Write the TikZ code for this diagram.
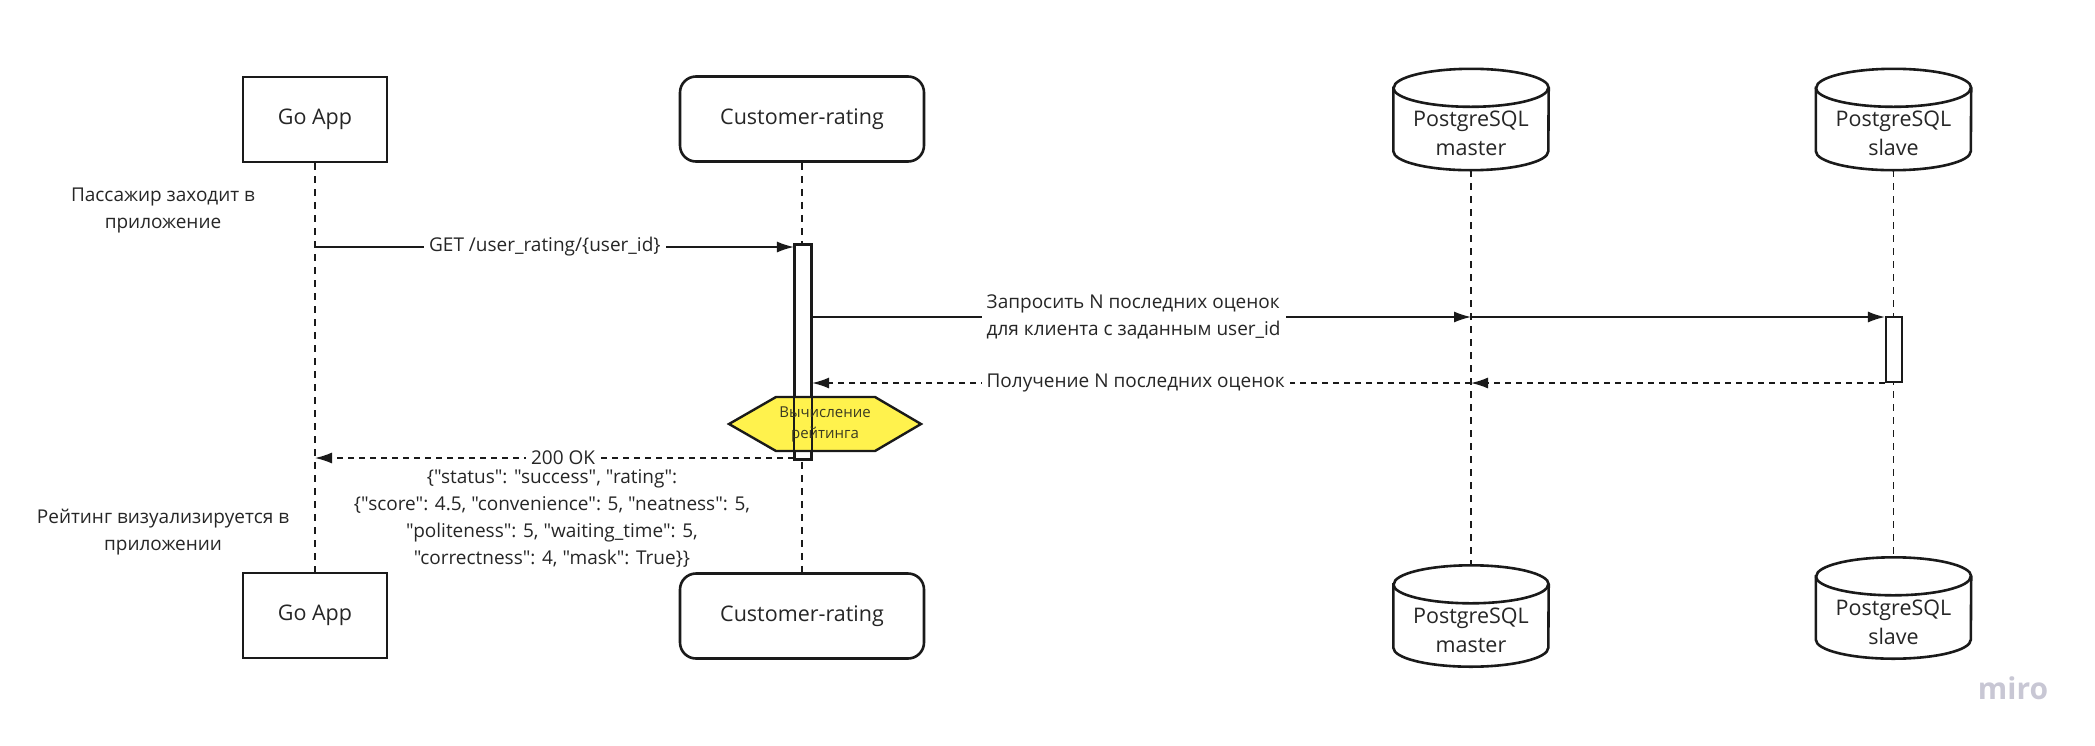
\documentclass[tikz,border=0pt]{standalone}
\usepackage{fontspec}
\setmainfont{Open Sans}[Ligatures=TeXOff]
\usetikzlibrary{arrows.meta,calc}
\definecolor{txt}{HTML}{262626}
\definecolor{ln}{HTML}{1A1A1A}
\definecolor{hexfill}{HTML}{FFF24D}
\definecolor{hextxt}{HTML}{3A3A22}
\definecolor{mirogray}{HTML}{C8C7D4}
\newcommand\dbcylinder[1]{%
  \draw[dbline] ($(#1.north west)+(0,-19)$) -- ($(#1.south west)+(0,19)$)
    arc[start angle=180,end angle=360,x radius=77.5pt,y radius=19pt]
    -- ($(#1.north east)+(0,-19)$)
    arc[start angle=0,end angle=180,x radius=77.5pt,y radius=19pt] -- cycle;
  \draw[dbline,fill=none] ($(#1.north west)+(0,-19)$)
    arc[start angle=180,end angle=360,x radius=77.5pt,y radius=19pt];}
\begin{document}
\begin{tikzpicture}[x=1pt,y=1pt,
  box/.style={draw=ln, line width=2.6pt, fill=white, minimum width=144pt, minimum height=85pt,
    inner sep=0pt, font=\fontsize{21.5}{26}\selectfont, text=txt},
  rbox/.style={box, rounded corners=16pt, minimum width=244pt},
  dbnode/.style={minimum width=155pt, minimum height=101pt, inner sep=0pt},
  dbline/.style={draw=ln, line width=2.6pt, fill=white},
  dbtext/.style={font=\fontsize{21.5}{29}\selectfont, text=txt, align=center, inner sep=0pt},
  life/.style={draw=ln, line width=1.3pt, dash pattern=on 7pt off 6pt},
  msg/.style={draw=ln, line width=1.4pt, -{Latex[length=17pt,width=11pt]}},
  ret/.style={msg, dash pattern=on 6pt off 5pt},
  lbl/.style={fill=white, font=\fontsize{19}{27}\selectfont, text=txt, inner xsep=5pt, inner ysep=1pt},
  note/.style={font=\fontsize{19}{27}\selectfont, text=txt, align=center, inner sep=0pt},
  act/.style={draw=ln, fill=white, line width=2.2pt, inner sep=0pt, minimum width=16pt},
  hexline/.style={draw=ln, line width=2.4pt, fill=hexfill},
  hextext/.style={font=\fontsize{15}{21}\selectfont, text=hextxt, align=center, inner sep=0pt}
]
\useasboundingbox (0,0) rectangle (2095,-745);

% participants (top)
\node[box] (goT) at (315,-119.5) {Go App};
\node[rbox] (crT) at (802,-119) {Customer-rating};
\node[dbnode] (mT) at (1471,-119.5) {};
\node[dbnode] (sT) at (1893.5,-119.5) {};
% participants (bottom)
\node[box] (goB) at (315,-615.5) {Go App};
\node[rbox] (crB) at (802,-616) {Customer-rating};
\node[dbnode] (mB) at (1471,-616) {};
\node[dbnode] (sB) at (1893.5,-608) {};

% lifelines
\draw[life] (goT.south) -- (goB.north);
\draw[life] (crT.south) -- (crB.north);
\draw[life] (mT.south) -- (mB.north);
\draw[life] (sT.south) -- (sB.north);

% cylinders
\dbcylinder{mT}
\dbcylinder{sT}
\dbcylinder{mB}
\dbcylinder{sB}
\node[dbtext] (mTt) at ($(mT.center)+(0,-14)$) {PostgreSQL\\master};
\node[dbtext] (sTt) at ($(sT.center)+(0,-14)$) {PostgreSQL\\slave};
\node[dbtext] (mBt) at ($(mB.center)+(0,-14)$) {PostgreSQL\\master};
\node[dbtext] (sBt) at ($(sB.center)+(0,-14)$) {PostgreSQL\\slave};

% activations
\node[act, minimum height=214pt] (actC) at (803,-352) {};
\node[act, minimum height=65pt] (actS) at (1894,-349.5) {};

% messages
\draw[msg] (goT.south |- 0,-247) -- (actC.west |- 0,-247)
  node[lbl, pos=0.48] {GET /user\_rating/\{user\_id\}};
\draw[msg] (actC.east |- 0,-317) -- (mT.south |- 0,-317)
  node[lbl, pos=0.488, align=left] {Запросить N последних оценок\\для клиента с заданным user\_id};
\draw[msg] (mT.south |- 0,-317) -- (actS.west |- 0,-317);
\draw[ret] (actS.west |- 0,-383) -- (mT.south |- 0,-383);
\draw[ret] (mT.south |- 0,-383) -- (actC.east |- 0,-383)
  node[lbl, pos=0.509] {Получение N последних оценок};
\draw[ret] (actC.west |- 0,-458) -- (goT.south |- 0,-458)
  node[lbl, pos=0.482] {200 OK};

% computation hexagon
\draw[hexline] (729,-424) -- (776,-397) -- (875,-397) -- (921,-424) -- (875,-451) -- (776,-451) -- cycle;
\draw[act, fill=none] (actC.north west) rectangle (actC.south east);
\node[hextext] (calc) at (825,-424) {Вычисление\\рейтинга};

% notes
\node[note] (n1) at (163,-210) {Пассажир заходит в\\приложение};
\node[note] (n2) at (163,-532) {Рейтинг визуализируется в\\приложении};
\node[note] (json) at (552,-519) {\{"status": "success", "rating":\\
\{"score": 4.5, "convenience": 5, "neatness": 5,\\
"politeness": 5, "waiting\_time": 5,\\
"correctness": 4, "mask": True\}\}};

\node[font=\fontsize{30}{30}\selectfont\bfseries, text=mirogray, inner sep=0pt] (miro) at (2013,-688) {miro};
\end{tikzpicture}
\end{document}
